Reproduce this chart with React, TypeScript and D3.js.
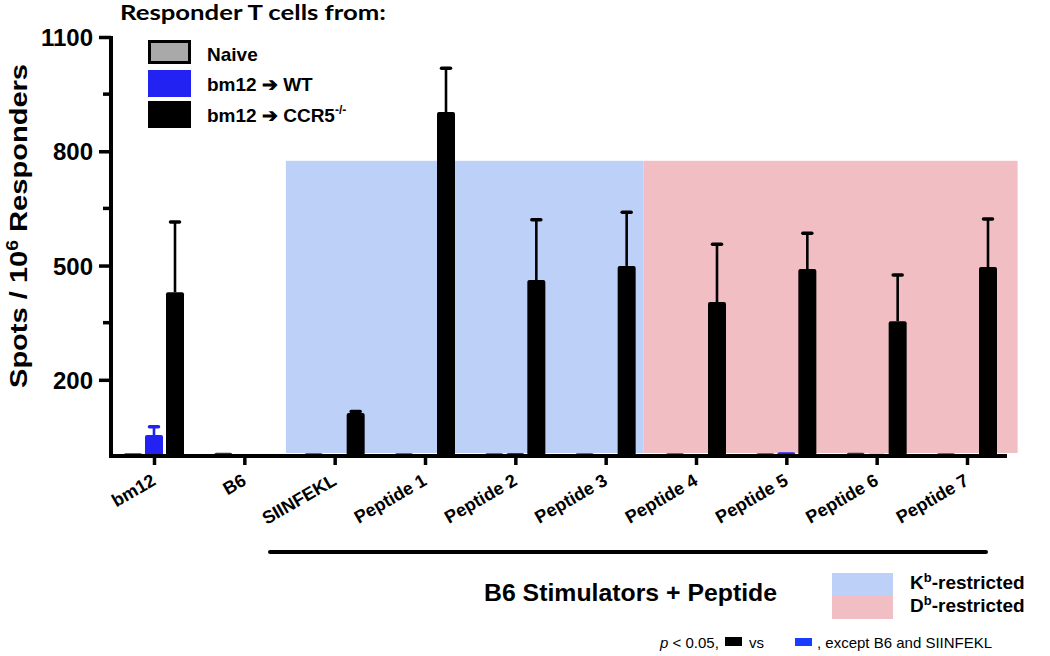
import { useEffect, useRef } from "react";
import * as d3 from "d3";

// stimulator groups on the x axis
const categories = [
  "bm12",
  "B6",
  "SIINFEKL",
  "Peptide 1",
  "Peptide 2",
  "Peptide 3",
  "Peptide 4",
  "Peptide 5",
  "Peptide 6",
  "Peptide 7",
];

// spots / 10^6 responders
const naiveValues = [2, 3, 2, 2, 2, 2, 2, 2, 3, 2];
const wtValues = [55, 3, 0, 2, 8, 2, 3, 10, 6, 3];
const wtErrors = [22, 0, 0, 0, 0, 0, 0, 0, 0, 0];
const ccr5Values = [430, 5, 113, 903, 462, 499, 404, 491, 354, 496];
const ccr5Errors = [184, 0, 4, 115, 158, 141, 152, 94, 121, 126];

const yMajorTicks = [200, 500, 800, 1100];
const yMinorTicks = [350, 650, 950];

const kbPeptides = ["SIINFEKL", "Peptide 1", "Peptide 2", "Peptide 3"];
const dbPeptides = ["Peptide 4", "Peptide 5", "Peptide 6", "Peptide 7"];
const shadeTop = 775;

const seriesNames = ["Naive", "bm12 \u2794 WT", "bm12 \u2794 CCR5"];
const seriesColors = ["#a9a9a9", "#2222f2", "#000000"];
const KB_COLOR = "#bdd0f8";
const DB_COLOR = "#f0bec3";

export default function App() {
  const svgRef = useRef<SVGSVGElement>(null);

  useEffect(() => {
    const width = 1050;
    const height = 656;
    const svg = d3.select(svgRef.current).attr("width", width).attr("height", height);
    svg.selectAll("*").remove();

    const font = "'Liberation Sans', Arial, sans-serif";

    // scales
    const xScale = d3.scalePoint<string>().domain(categories).range([154, 967]);
    const step = xScale.step();
    const yScale = d3.scaleLinear().domain([0, 1100]).range([456, 37]);
    const barW = 18;
    const offset = 21;

    // shaded restriction regions
    const kbLeft = xScale(kbPeptides[0])! - step * 0.54;
    const split = xScale(kbPeptides[kbPeptides.length - 1])! + step * 0.42;
    const dbRight = xScale(dbPeptides[dbPeptides.length - 1])! + step * 0.56;
    const shade = svg.append("g");
    shade
      .append("rect")
      .attr("x", kbLeft)
      .attr("y", yScale(shadeTop))
      .attr("width", split - kbLeft)
      .attr("height", yScale(0) - yScale(shadeTop) - 3)
      .attr("fill", KB_COLOR);
    shade
      .append("rect")
      .attr("x", split)
      .attr("y", yScale(shadeTop))
      .attr("width", dbRight - split)
      .attr("height", yScale(0) - yScale(shadeTop) - 3)
      .attr("fill", DB_COLOR);

    // bars
    const series = [
      { values: naiveValues, errors: naiveValues.map(() => 0), dx: -offset, color: seriesColors[0] },
      { values: wtValues, errors: wtErrors, dx: 0, color: seriesColors[1] },
      { values: ccr5Values, errors: ccr5Errors, dx: offset, color: seriesColors[2] },
    ];

    series.forEach((s, si) => {
      const g = svg.append("g");
      const rows = categories.map((c, i) => ({ c, v: s.values[i], e: s.errors[i] }));

      // error bars (upper only)
      const eb = g.selectAll(".err").data(rows.filter((d) => d.e > 0)).join("g");
      eb.append("line")
        .attr("x1", (d) => xScale(d.c)! + s.dx)
        .attr("x2", (d) => xScale(d.c)! + s.dx)
        .attr("y1", (d) => yScale(d.v))
        .attr("y2", (d) => yScale(d.v + d.e))
        .attr("stroke", s.color)
        .attr("stroke-width", 2.6);
      eb.append("line")
        .attr("x1", (d) => xScale(d.c)! + s.dx - 4.5)
        .attr("x2", (d) => xScale(d.c)! + s.dx + 4.5)
        .attr("y1", (d) => yScale(d.v + d.e))
        .attr("y2", (d) => yScale(d.v + d.e))
        .attr("stroke", s.color)
        .attr("stroke-width", 3.5)
        .attr("stroke-linecap", "round");

      g.selectAll("rect")
        .data(rows)
        .join("rect")
        .attr("x", (d) => xScale(d.c)! + s.dx - barW / 2)
        .attr("y", (d) => yScale(d.v) - (si === 0 ? 2 : 0))
        .attr("width", barW)
        .attr("height", (d) => yScale(0) - yScale(d.v) + (si === 0 ? 2 : 0))
        .attr("rx", 2)
        .attr("fill", si === 0 ? "#333" : s.color);
    });

    // y axis
    const yAxis = d3
      .axisLeft(yScale)
      .tickValues(yMajorTicks)
      .tickSize(12)
      .tickSizeOuter(0)
      .tickFormat(d3.format("d"));
    const yg = svg.append("g").attr("transform", "translate(111,0)").call(yAxis);
    yg.select(".domain").attr("stroke-width", 4).attr("d", `M0,${yScale(1100) - 1}V${yScale(0)}`);
    yg.selectAll(".tick line").attr("stroke-width", 3.5);
    yg.selectAll(".tick text")
      .attr("font-family", font)
      .attr("font-weight", "bold")
      .attr("font-size", 24)
      .attr("x", -18)
      .attr("dy", "0.36em")
      .attr("fill", "#000");
    yg.selectAll(".minor")
      .data(yMinorTicks)
      .join("line")
      .attr("class", "minor")
      .attr("x1", -8)
      .attr("x2", 0)
      .attr("y1", (d) => yScale(d))
      .attr("y2", (d) => yScale(d))
      .attr("stroke", "#000")
      .attr("stroke-width", 3.5);

    // x axis
    const xAxis = d3.axisBottom(xScale).tickSize(9).tickSizeOuter(0).tickFormat(() => "");
    const xg = svg.append("g").attr("transform", `translate(0,${yScale(0)})`).call(xAxis);
    xg.select(".domain").attr("stroke-width", 4).attr("d", "M109,0H1007");
    xg.selectAll(".tick line").attr("stroke-width", 3.5).attr("y1", 1);
    xg.selectAll(".lbl")
      .data(categories)
      .join("text")
      .attr("class", "lbl")
      .attr("transform", (d) => `translate(${xScale(d)! + 3},${28}) rotate(-30)`)
      .attr("text-anchor", "end")
      .attr("font-family", font)
      .attr("font-weight", "bold")
      .attr("font-size", 18)
      .attr("fill", "#000")
      .text((d) => d);

    // y title
    const yt = svg
      .append("text")
      .attr("transform", "translate(27,226) rotate(-90)")
      .attr("text-anchor", "middle")
      .attr("font-family", font)
      .attr("font-weight", "bold")
      .attr("font-size", 24)
      .attr("textLength", 324)
      .attr("lengthAdjust", "spacingAndGlyphs");
    yt.append("tspan").text("Spots / 10");
    yt.append("tspan").attr("dy", -9).attr("font-size", 16).text("6");
    yt.append("tspan").attr("dy", 9).text(" Responders");

    // legend
    svg
      .append("text")
      .attr("x", 120)
      .attr("y", 20)
      .attr("font-family", "Lato, 'Open Sans', sans-serif")
      .attr("font-weight", "bold")
      .attr("font-size", 21)
      .attr("textLength", 266)
      .attr("lengthAdjust", "spacingAndGlyphs")
      .text("Responder T cells from:");

    const legend = svg.append("g");
    const legendRows = [
      { y: 40, h: 24 },
      { y: 70, h: 27 },
      { y: 101, h: 27 },
    ];
    seriesNames.forEach((name, i) => {
      legend
        .append("rect")
        .attr("x", i === 0 ? 149.5 : 148)
        .attr("y", legendRows[i].y + (i === 0 ? 1.5 : 0))
        .attr("width", i === 0 ? 40 : 43)
        .attr("height", legendRows[i].h - (i === 0 ? 3 : 0))
        .attr("fill", seriesColors[i])
        .attr("stroke", i === 0 ? "#000" : "none")
        .attr("stroke-width", 3);
      const t = legend
        .append("text")
        .attr("x", 207)
        .attr("y", legendRows[i].y + 21)
        .attr("font-family", font)
        .attr("font-weight", "bold")
        .attr("font-size", 19)
        .text(name);
      if (i === 2) {
        t.append("tspan").attr("dy", -8).attr("font-size", 12).text("-/-");
      }
    });

    // bottom bracket + label
    svg
      .append("line")
      .attr("x1", 270)
      .attr("x2", 986)
      .attr("y1", 552)
      .attr("y2", 552)
      .attr("stroke", "#000")
      .attr("stroke-width", 4)
      .attr("stroke-linecap", "round");
    svg
      .append("text")
      .attr("x", 484)
      .attr("y", 601)
      .attr("font-family", font)
      .attr("font-weight", "bold")
      .attr("font-size", 24)
      .attr("textLength", 293)
      .attr("lengthAdjust", "spacingAndGlyphs")
      .text("B6 Stimulators + Peptide");

    // restriction legend
    const rl = svg.append("g");
    [
      { color: KB_COLOR, letter: "K", y: 573 },
      { color: DB_COLOR, letter: "D", y: 596 },
    ].forEach((r) => {
      rl.append("rect").attr("x", 832).attr("y", r.y).attr("width", 61).attr("height", 23).attr("fill", r.color);
      const t = rl
        .append("text")
        .attr("x", 910)
        .attr("y", r.y + 16)
        .attr("font-family", font)
        .attr("font-weight", "bold")
        .attr("font-size", 19);
      t.append("tspan").text(r.letter);
      t.append("tspan").attr("dy", -7).attr("font-size", 13).text("b");
      t.append("tspan").attr("dy", 7).text("-restricted");
    });

    // significance note
    const note = svg.append("g").attr("font-family", font).attr("font-size", 15);
    const nt = note.append("text").attr("x", 660).attr("y", 648);
    nt.append("tspan").attr("font-style", "italic").text("p");
    nt.append("tspan").text(" < 0.05,");
    note.append("rect").attr("x", 725).attr("y", 637).attr("width", 17).attr("height", 9).attr("fill", "#000");
    note.append("text").attr("x", 749).attr("y", 648).text("vs");
    note.append("rect").attr("x", 795).attr("y", 638).attr("width", 17).attr("height", 8).attr("fill", "#1a3cff");
    note.append("text").attr("x", 817).attr("y", 648).text(", except B6 and SIINFEKL");
  }, []);

  return (
    <svg
      ref={svgRef}
      style={{ position: "absolute", left: 0, top: 0, background: "#fff" }}
    ></svg>
  );
}
